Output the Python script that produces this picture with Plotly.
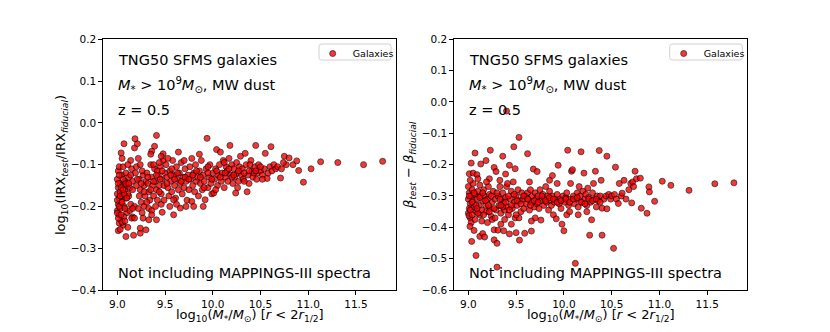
import plotly.graph_objects as go

# ---------------- data ----------------
x_ticks = [9.0, 9.5, 10.0, 10.5, 11.0, 11.5]
x_tick_labels = ["9.0", "9.5", "10.0", "10.5", "11.0", "11.5"]
left_y_ticks = [0.2, 0.1, 0.0, -0.1, -0.2, -0.3, -0.4]
left_y_labels = ["0.2", "0.1", "0.0", "\u22120.1", "\u22120.2", "\u22120.3", "\u22120.4"]
right_y_ticks = [0.2, 0.1, 0.0, -0.1, -0.2, -0.3, -0.4, -0.5, -0.6]
right_y_labels = ["0.2", "0.1", "0.0", "\u22120.1", "\u22120.2", "\u22120.3", "\u22120.4", "\u22120.5", "\u22120.6"]

# Left panel: log10(IRX_test / IRX_fiducial)
left_mass_a = [9.00, 9.01, 9.00, 9.02, 9.01, 9.00, 9.02, 9.01, 9.03, 9.03,
               9.04, 9.03, 9.05, 9.05, 9.06, 9.04, 9.06, 9.07, 9.08, 9.08,
               9.02, 9.06, 9.09, 9.09, 9.10, 9.07, 9.10, 9.02, 9.00, 9.05,
               9.01, 9.09, 9.05, 9.01, 9.00, 9.11, 9.07, 9.04]
left_irx_a = [-0.135, -0.155, -0.17, -0.18, -0.195, -0.21, -0.22, -0.115, -0.145, -0.165,
              -0.19, -0.205, -0.125, -0.15, -0.175, -0.235, -0.245, -0.2, -0.16, -0.14,
              -0.105, -0.105, -0.12, -0.18, -0.215, -0.225, -0.15, -0.24, -0.185, -0.085,
              -0.258, -0.272, -0.238, -0.228, -0.216, -0.25, -0.05, -0.072]
left_mass_b = [9.12, 9.13, 9.12, 9.14, 9.13, 9.15, 9.16, 9.16, 9.18, 9.16,
               9.19, 9.20, 9.23, 9.22, 9.20, 9.23, 9.24, 9.25, 9.26, 9.24,
               9.27, 9.28, 9.29, 9.28, 9.30, 9.18, 9.21, 9.185, 9.15, 9.18,
               9.17, 9.24, 9.24, 9.27, 9.30, 9.14, 9.22, 9.26, 9.11, 9.11]
left_irx_b = [-0.13, -0.155, -0.175, -0.195, -0.21, -0.11, -0.14, -0.16, -0.2, -0.225,
              -0.12, -0.15, -0.175, -0.205, -0.105, -0.135, -0.16, -0.19, -0.215, -0.1,
              -0.125, -0.15, -0.175, -0.2, -0.14, -0.06, -0.05, -0.038, -0.228, -0.228,
              -0.269, -0.264, -0.252, -0.228, -0.256, -0.09, -0.085, -0.115, -0.1, -0.17]
left_mass_c = [9.31, 9.32, 9.33, 9.34, 9.33, 9.35, 9.36, 9.37, 9.38, 9.36,
               9.39, 9.40, 9.41, 9.42, 9.40, 9.43, 9.44, 9.45, 9.46, 9.47,
               9.48, 9.49, 9.50, 9.46, 9.33, 9.36, 9.41, 9.41, 9.39, 9.36,
               9.48, 9.46, 9.47, 9.44, 9.35, 9.42, 9.49, 9.38, 9.31, 9.45]
left_irx_c = [-0.12, -0.145, -0.165, -0.185, -0.205, -0.1, -0.13, -0.15, -0.175, -0.21,
              -0.11, -0.14, -0.16, -0.185, -0.2, -0.125, -0.15, -0.105, -0.17, -0.135,
              -0.09, -0.15, -0.12, -0.195, -0.232, -0.22, -0.232, -0.03, -0.056, -0.068,
              -0.074, -0.08, -0.214, -0.095, -0.075, -0.115, -0.185, -0.1, -0.19, -0.135]
left_mass_d = [9.51, 9.52, 9.53, 9.54, 9.55, 9.56, 9.57, 9.58, 9.59, 9.60,
               9.61, 9.62, 9.63, 9.64, 9.65, 9.66, 9.67, 9.68, 9.69, 9.70,
               9.71, 9.72, 9.73, 9.74, 9.75, 9.59, 9.59, 9.66, 9.53, 9.62,
               9.57, 9.70, 9.64, 9.55, 9.72]
left_irx_d = [-0.1, -0.13, -0.155, -0.175, -0.115, -0.14, -0.165, -0.09, -0.125, -0.15,
              -0.18, -0.105, -0.135, -0.16, -0.12, -0.145, -0.095, -0.17, -0.13, -0.155,
              -0.11, -0.14, -0.185, -0.125, -0.16, -0.184, -0.22, -0.204, -0.085, -0.195,
              -0.11, -0.09, -0.07, -0.2, -0.2]
left_mass_e = [9.76, 9.77, 9.78, 9.79, 9.80, 9.81, 9.82, 9.83, 9.84, 9.85,
               9.86, 9.87, 9.88, 9.89, 9.90, 9.91, 9.92, 9.93, 9.94, 9.95,
               9.96, 9.97, 9.98, 9.99, 10.00, 9.78, 9.86, 9.80, 9.90, 9.95]
left_irx_e = [-0.105, -0.135, -0.188, -0.15, -0.12, -0.165, -0.1, -0.14, -0.13, -0.175,
              -0.115, -0.145, -0.09, -0.16, -0.125, -0.14, -0.184, -0.11, -0.037, -0.155,
              -0.13, -0.1, -0.145, -0.17, -0.12, -0.085, -0.075, -0.2, -0.2, -0.105]
left_mass_f = [10.01, 10.02, 10.03, 10.04, 10.05, 10.06, 10.07, 10.08, 10.09, 10.10,
               10.11, 10.12, 10.13, 10.14, 10.15, 10.16, 10.17, 10.18, 10.19, 10.20,
               10.21, 10.22, 10.23, 10.24, 10.25, 10.26, 10.27, 10.28, 10.29, 10.30,
               10.03, 10.12, 10.20, 10.26]
left_irx_f = [-0.168, -0.135, -0.11, -0.064, -0.15, -0.125, -0.1, -0.07, -0.14, -0.12,
              -0.09, -0.155, -0.13, -0.105, -0.115, -0.14, -0.085, -0.054, -0.125, -0.1,
              -0.145, -0.11, -0.13, -0.168, -0.095, -0.12, -0.14, -0.105, -0.08, -0.125,
              -0.16, -0.095, -0.13, -0.155]
left_mass_g = [10.31, 10.32, 10.34, 10.35, 10.36, 10.37, 10.38, 10.40, 10.41, 10.42,
               10.44, 10.45, 10.46, 10.47, 10.48, 10.50, 10.52, 10.54, 10.55, 10.57,
               10.58, 10.60, 10.61, 10.62, 10.64, 10.66, 10.68, 10.71, 10.72, 10.75,
               10.77, 10.80, 10.84, 10.88, 10.90, 10.95, 11.03, 11.13, 11.31, 11.58,
               11.78, 10.39, 10.33, 10.43, 10.52, 10.74]
left_irx_g = [-0.11, -0.135, -0.073, -0.1, -0.165, -0.125, -0.145, -0.09, -0.115, -0.13,
              -0.105, -0.054, -0.135, -0.12, -0.1, -0.115, -0.125, -0.11, -0.073, -0.133,
              -0.12, -0.105, -0.057, -0.115, -0.1, -0.11, -0.105, -0.132, -0.11, -0.08,
              -0.1, -0.084, -0.1, -0.091, -0.114, -0.142, -0.11, -0.093, -0.095, -0.10,
              -0.092, -0.1, -0.14, -0.12, -0.135, -0.095]
left_mass_h = [9.01, 9.02, 9.03, 9.04, 9.05, 9.06, 9.07, 9.08, 9.09, 9.10,
               9.12, 9.14, 9.16, 9.21, 9.25, 9.28, 9.32, 9.35, 9.38, 9.41,
               9.44, 9.47, 9.52, 9.56, 9.60, 9.63, 9.67, 9.71, 9.75, 9.79,
               9.83, 9.87, 9.91, 9.95, 9.99, 10.04, 10.08, 10.13, 10.17, 10.22,
               10.27, 10.33, 10.38, 10.45, 10.50, 9.02, 9.04, 9.06, 9.08, 9.03]
left_irx_h = [-0.145, -0.2, -0.175, -0.155, -0.19, -0.135, -0.17, -0.205, -0.145, -0.18,
              -0.145, -0.125, -0.205, -0.135, -0.145, -0.165, -0.13, -0.16, -0.14, -0.125,
              -0.165, -0.115, -0.145, -0.125, -0.135, -0.12, -0.14, -0.13, -0.135, -0.125,
              -0.115, -0.13, -0.155, -0.12, -0.135, -0.115, -0.13, -0.12, -0.11, -0.125,
              -0.115, -0.12, -0.115, -0.115, -0.105, -0.125, -0.22, -0.16, -0.235, -0.255]

# Right panel: beta_test - beta_fiducial
right_mass_a = [9.00, 9.01, 9.00, 9.02, 9.01, 9.00, 9.02, 9.03, 9.04, 9.03,
                9.05, 9.06, 9.05, 9.07, 9.08, 9.09, 9.07, 9.10, 9.11, 9.12,
                9.13, 9.14, 9.12, 9.15, 9.14, 9.01, 9.05, 9.09, 9.03, 9.07,
                9.017, 9.007, 9.035, 9.08, 9.12, 9.06, 9.02, 9.10, 9.13, 9.15]
right_beta_a = [-0.27, -0.29, -0.31, -0.325, -0.34, -0.355, -0.37, -0.3, -0.28, -0.385,
                -0.315, -0.335, -0.26, -0.295, -0.35, -0.31, -0.375, -0.285, -0.33, -0.265,
                -0.3, -0.345, -0.36, -0.315, -0.38, -0.229, -0.227, -0.232, -0.195, -0.163,
                -0.397, -0.363, -0.445, -0.49, -0.429, -0.41, -0.25, -0.245, -0.198, -0.42]
right_mass_b = [9.16, 9.17, 9.18, 9.19, 9.185, 9.20, 9.21, 9.22, 9.23, 9.24,
                9.23, 9.25, 9.26, 9.27, 9.27, 9.27, 9.28, 9.29, 9.29, 9.30,
                9.30, 9.31, 9.31, 9.32, 9.33, 9.34, 9.35, 9.17, 9.20, 9.22,
                9.25, 9.33, 9.19, 9.34, 9.36, 9.37]
right_beta_b = [-0.28, -0.3, -0.33, -0.35, -0.187, -0.31, -0.27, -0.295, -0.34, -0.365,
                -0.154, -0.32, -0.285, -0.209, -0.408, -0.44, -0.31, -0.222, -0.345, -0.451,
                -0.527, -0.409, -0.3, -0.33, -0.27, -0.355, -0.31, -0.431, -0.385, -0.245,
                -0.375, -0.25, -0.255, -0.39, -0.173, -0.411]
right_mass_c = [9.36, 9.37, 9.38, 9.39, 9.40, 9.40, 9.41, 9.42, 9.43, 9.43,
                9.44, 9.45, 9.46, 9.476, 9.47, 9.48, 9.49, 9.49, 9.50, 9.50,
                9.51, 9.52, 9.53, 9.535, 9.54, 9.55, 9.56, 9.57, 9.58, 9.59,
                9.60, 9.39, 9.45, 9.41, 9.53, 9.38]
right_beta_c = [-0.29, -0.32, -0.345, -0.305, -0.029, -0.27, -0.335, -0.36, -0.202, -0.421,
                -0.31, -0.285, -0.34, -0.143, -0.255, -0.32, -0.213, -0.37, -0.417, -0.3,
                -0.33, -0.28, -0.113, -0.441, -0.315, -0.35, -0.29, -0.31, -0.34, -0.419,
                -0.3, -0.23, -0.39, -0.26, -0.37, -0.375]
right_mass_d = [9.61, 9.62, 9.62, 9.63, 9.64, 9.65, 9.66, 9.66, 9.67, 9.68,
                9.69, 9.70, 9.71, 9.72, 9.72, 9.73, 9.74, 9.75, 9.76, 9.77,
                9.78, 9.79, 9.80, 9.81, 9.82, 9.83, 9.84, 9.85, 9.86, 9.87,
                9.88, 9.89, 9.90, 9.91, 9.92, 9.93, 9.94, 9.95, 9.96, 9.97,
                9.98, 9.99, 9.64, 9.70, 9.85, 9.88, 9.93, 9.66]
right_beta_d = [-0.325, -0.165, -0.29, -0.31, -0.345, -0.28, -0.412, -0.32, -0.3, -0.214,
                -0.335, -0.29, -0.31, -0.222, -0.325, -0.3, -0.34, -0.28, -0.377, -0.315,
                -0.295, -0.33, -0.31, -0.27, -0.32, -0.3, -0.345, -0.285, -0.315, -0.33,
                -0.3, -0.36, -0.32, -0.31, -0.373, -0.295, -0.202, -0.325, -0.31, -0.34,
                -0.39, -0.3, -0.255, -0.37, -0.25, -0.235, -0.26, -0.38]
right_mass_e = [10.00, 10.01, 10.02, 10.03, 10.04, 10.05, 10.06, 10.07, 10.08, 10.09,
                10.10, 10.11, 10.12, 10.13, 10.14, 10.15, 10.16, 10.17, 10.18, 10.19,
                10.20, 10.21, 10.22, 10.23, 10.24, 10.25, 10.26, 10.27, 10.28, 10.29,
                10.30, 10.31, 10.32, 10.33, 10.34, 10.35, 10.36, 10.37, 10.38, 10.39,
                10.40, 10.40, 10.03, 10.15, 10.06, 10.24]
right_beta_e = [-0.411, -0.32, -0.305, -0.29, -0.154, -0.33, -0.31, -0.26, -0.221, -0.216,
                -0.3, -0.325, -0.515, -0.31, -0.29, -0.335, -0.27, -0.3, -0.159, -0.32,
                -0.285, -0.227, -0.31, -0.295, -0.33, -0.275, -0.305, -0.425, -0.32, -0.376,
                -0.29, -0.26, -0.31, -0.221, -0.335, -0.3, -0.315, -0.155, -0.3, -0.25,
                -0.339, -0.425, -0.36, -0.36, -0.35, -0.35]
right_mass_f = [10.42, 10.44, 10.45, 10.45, 10.47, 10.49, 10.50, 10.52, 10.53, 10.54,
                10.55, 10.57, 10.58, 10.60, 10.61, 10.63, 10.65, 10.68, 10.70, 10.71,
                10.72, 10.745, 10.73, 10.76, 10.80, 10.81, 10.87, 10.89, 10.895, 10.95,
                11.03, 11.12, 11.31, 11.58, 11.78]
right_beta_f = [-0.31, -0.3, -0.173, -0.341, -0.295, -0.31, -0.3, -0.467, -0.295, -0.208,
                -0.31, -0.324, -0.26, -0.3, -0.291, -0.25, -0.31, -0.28, -0.26, -0.322,
                -0.255, -0.221, -0.27, -0.245, -0.243, -0.339, -0.355, -0.271, -0.287, -0.317,
                -0.253, -0.266, -0.282, -0.261, -0.258]
right_mass_g = [9.01, 9.02, 9.04, 9.06, 9.08, 9.10, 9.12, 9.15, 9.18, 9.21,
                9.24, 9.27, 9.30, 9.33, 9.36, 9.39, 9.42, 9.45, 9.48, 9.51,
                9.55, 9.58, 9.62, 9.65, 9.69, 9.73, 9.77, 9.81, 9.85, 9.89,
                9.93, 9.97, 10.02, 10.06, 10.10, 10.14, 10.18, 10.22, 10.26, 10.30,
                10.34, 10.38, 9.04, 9.09, 9.16, 9.22, 9.28, 9.34, 9.43, 9.50]
right_beta_g = [-0.3, -0.345, -0.32, -0.29, -0.33, -0.355, -0.305, -0.29, -0.315, -0.33,
                -0.3, -0.34, -0.29, -0.31, -0.335, -0.32, -0.3, -0.33, -0.295, -0.315,
                -0.325, -0.3, -0.31, -0.33, -0.315, -0.32, -0.3, -0.315, -0.305, -0.31,
                -0.32, -0.315, -0.31, -0.32, -0.31, -0.305, -0.32, -0.325, -0.31, -0.315,
                -0.31, -0.32, -0.36, -0.34, -0.36, -0.35, -0.37, -0.33, -0.345, -0.36]

left_mass = (left_mass_a + left_mass_b + left_mass_c + left_mass_d + left_mass_e
             + left_mass_f + left_mass_g + left_mass_h)
left_irx = (left_irx_a + left_irx_b + left_irx_c + left_irx_d + left_irx_e
            + left_irx_f + left_irx_g + left_irx_h)
right_mass = (right_mass_a + right_mass_b + right_mass_c + right_mass_d + right_mass_e
              + right_mass_f + right_mass_g)
right_beta = (right_beta_a + right_beta_b + right_beta_c + right_beta_d + right_beta_e
              + right_beta_f + right_beta_g)

# ---------------- figure ----------------
W, H = 830, 332
FONT = "DejaVu Sans"


def px(x):
    return x / W


def py(y):
    return 1 - y / H


def rounded_box(x0, y0, x1, y1, r=2.5):
    """SVG path (paper coords) of a small rounded legend frame given in pixels."""
    pts = [
        f"M{px(x0 + r)},{py(y0)}",
        f"L{px(x1 - r)},{py(y0)}",
        f"Q{px(x1)},{py(y0)} {px(x1)},{py(y0 + r)}",
        f"L{px(x1)},{py(y1 - r)}",
        f"Q{px(x1)},{py(y1)} {px(x1 - r)},{py(y1)}",
        f"L{px(x0 + r)},{py(y1)}",
        f"Q{px(x0)},{py(y1)} {px(x0)},{py(y1 - r)}",
        f"L{px(x0)},{py(y0 + r)}",
        f"Q{px(x0)},{py(y0)} {px(x0 + r)},{py(y0)}",
        "Z",
    ]
    return " ".join(pts)


marker = dict(color="red", size=6, opacity=0.8, line=dict(color="black", width=0.8))

fig = go.Figure()
fig.add_trace(go.Scatter(x=left_mass, y=left_irx, mode="markers", marker=marker,
                         name="Galaxies", xaxis="x", yaxis="y", legend="legend"))
fig.add_trace(go.Scatter(x=right_mass, y=right_beta, mode="markers", marker=marker,
                         name="Galaxies", xaxis="x2", yaxis="y2", legend="legend2"))

axis_style = dict(showline=True, mirror=True, linecolor="black", linewidth=1,
                  ticks="outside", ticklen=4, tickwidth=1, tickcolor="black",
                  showgrid=False, zeroline=False, automargin=False,
                  tickfont=dict(family=FONT, size=10.5, color="black"))

legend_style = dict(xanchor="left", yanchor="top", bgcolor="rgba(0,0,0,0)",
                    borderwidth=0, font=dict(family=FONT, size=9.5), itemwidth=30)

ydom = [py(290), py(39.3)]
fig.update_layout(
    width=W, height=H,
    margin=dict(l=0, r=0, t=0, b=0, pad=0, autoexpand=False),
    paper_bgcolor="white", plot_bgcolor="white",
    font=dict(family=FONT, color="black"),
    xaxis=dict(domain=[px(103.3), px(396)], range=[8.853, 11.92], anchor="y",
               tickvals=x_ticks, ticktext=x_tick_labels, **axis_style),
    yaxis=dict(domain=ydom, range=[-0.4, 0.2], anchor="x",
               tickvals=left_y_ticks, ticktext=left_y_labels, **axis_style),
    xaxis2=dict(domain=[px(454.3), px(747.3)], range=[8.853, 11.92], anchor="y2",
                tickvals=x_ticks, ticktext=x_tick_labels, **axis_style),
    yaxis2=dict(domain=ydom, range=[-0.6, 0.2], anchor="x2",
                tickvals=right_y_ticks, ticktext=right_y_labels, **axis_style),
    legend=dict(x=px(312.7), y=py(39), **legend_style),
    legend2=dict(x=px(663.7), y=py(39), **legend_style),
    showlegend=True,
    shapes=[
        dict(type="path", path=rounded_box(319, 44, 391, 60), xref="paper", yref="paper",
             line=dict(color="#d0d0d0", width=1), fillcolor="rgba(255,255,255,0.8)",
             layer="above"),
        dict(type="path", path=rounded_box(669.7, 44, 742.3, 60), xref="paper", yref="paper",
             line=dict(color="#d0d0d0", width=1), fillcolor="rgba(255,255,255,0.8)",
             layer="above"),
    ],
)

anns = []
text_lines = [
    ("TNG50 SFMS galaxies", 60),
    ("<i>M</i><sub>*</sub> > 10<sup>9</sup><i>M</i><sub>\u2299</sub>, MW dust", 85),
    ("z = 0.5", 110),
    ("Not including MAPPINGS-III spectra", 273),
]
for left in (116, 467.3):
    for txt, yy in text_lines:
        anns.append(dict(text=txt, x=px(left), y=py(yy), xref="paper", yref="paper",
                         xanchor="left", yanchor="middle", showarrow=False,
                         font=dict(family=FONT, size=14.5, color="black")))

xtitle = ("log<sub>10</sub>(<i>M</i><sub>*</sub>/<i>M</i><sub>\u2299</sub>) "
          "[<i>r</i> < 2<i>r</i><sub>1/2</sub>]")
for cx in (249.7, 600.8):
    anns.append(dict(text=xtitle, x=px(cx), y=py(315), xref="paper", yref="paper",
                     xanchor="center", yanchor="middle", showarrow=False,
                     font=dict(family=FONT, size=13, color="black")))

anns.append(dict(text="log<sub>10</sub>(IRX<sub><i>test</i></sub>/IRX<sub><i>fiducial</i></sub>)",
                 x=px(61), y=py(165), xref="paper", yref="paper", textangle=-90,
                 xanchor="center", yanchor="middle", showarrow=False,
                 font=dict(family=FONT, size=13, color="black")))
anns.append(dict(text="<i>\u03b2</i><sub><i>test</i></sub> \u2212 <i>\u03b2</i><sub><i>fiducial</i></sub>",
                 x=px(409), y=py(165), xref="paper", yref="paper", textangle=-90,
                 xanchor="center", yanchor="middle", showarrow=False,
                 font=dict(family=FONT, size=13, color="black")))

fig.update_layout(annotations=anns)
fig.write_html("out.html", config={"displayModeBar": False},
               post_script="document.body.style.margin='0';document.body.style.padding='0';")
